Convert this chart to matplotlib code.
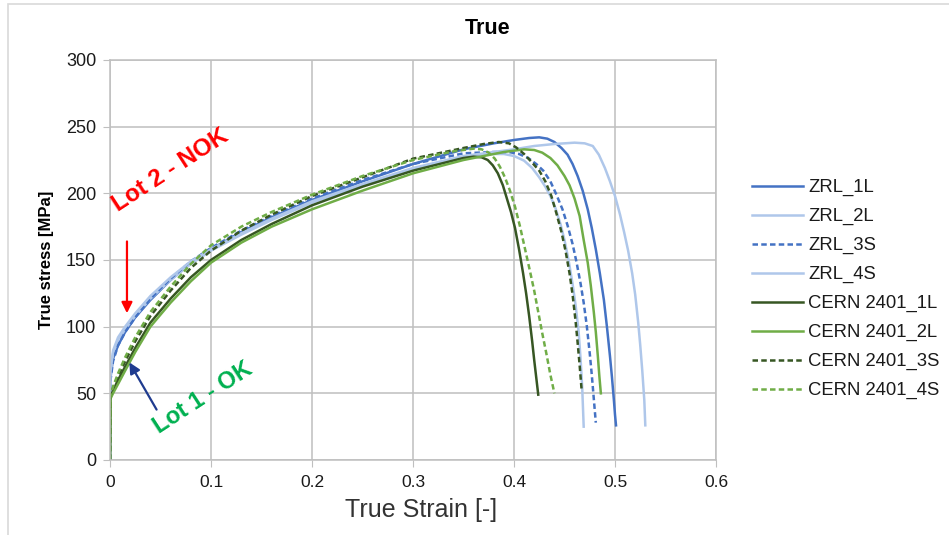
import matplotlib
matplotlib.use("Agg")
import matplotlib.pyplot as plt
from matplotlib.patches import Rectangle

plt.rcParams['font.family'] = ['Liberation Sans', 'DejaVu Sans']

# true strain [-] / true stress [MPa]
zrl_1l_eps = [0, 0.0005, 0.003, 0.008, 0.015, 0.025, 0.04, 0.06, 0.08, 0.1, 0.13, 0.16, 0.2, 0.25, 0.3, 0.35,
              0.38, 0.4, 0.415, 0.425, 0.433, 0.44, 0.447, 0.453, 0.458, 0.463, 0.468, 0.473, 0.477, 0.481,
              0.485, 0.489, 0.492, 0.495, 0.497, 0.499, 0.5, 0.501]
zrl_1l_sig = [0, 62, 76, 86, 96, 107, 120, 135, 148, 158, 171, 182, 195, 209, 222, 233,
              237.5, 240, 241.5, 242, 241, 238.5, 234, 229, 222, 213, 202, 188, 174, 158,
              140, 120, 100, 78, 62, 44, 34, 26]

zrl_2l_eps = [0, 0.0005, 0.003, 0.008, 0.015, 0.025, 0.04, 0.06, 0.08, 0.1, 0.13, 0.16, 0.2, 0.25, 0.3, 0.35,
              0.375, 0.39, 0.4, 0.41, 0.418, 0.425, 0.431, 0.436, 0.441, 0.446, 0.45, 0.454, 0.458, 0.461,
              0.464, 0.466, 0.4675, 0.469]
zrl_2l_sig = [0, 64, 80, 90, 98, 108, 121, 135, 147, 157, 169, 180, 193, 206, 218, 227,
              229.5, 229.5, 228, 224.5, 219, 212, 205, 198, 189, 177, 165, 150, 132, 116,
              96, 75, 55, 25]

zrl_3s_eps = [0, 0.0005, 0.003, 0.008, 0.015, 0.025, 0.04, 0.06, 0.08, 0.1, 0.13, 0.16, 0.2, 0.25, 0.3, 0.35,
              0.38, 0.395, 0.405, 0.414, 0.422, 0.429, 0.436, 0.442, 0.448, 0.453, 0.458, 0.462, 0.466, 0.469,
              0.472, 0.475, 0.477, 0.479, 0.481]
zrl_3s_sig = [0, 60, 74, 86, 96, 107, 121, 136, 149, 159, 172, 183, 196, 210, 222, 230,
              231, 231, 229.5, 226.5, 222, 217, 209, 199, 188, 176, 162, 148, 132, 118,
              101, 80, 64, 46, 28]

zrl_4s_eps = [0, 0.0005, 0.003, 0.008, 0.015, 0.025, 0.04, 0.06, 0.08, 0.1, 0.13, 0.16, 0.2, 0.25, 0.3, 0.35,
              0.4, 0.42, 0.44, 0.46, 0.47, 0.478, 0.484, 0.49, 0.495, 0.5, 0.505, 0.509, 0.513, 0.517,
              0.52, 0.523, 0.525, 0.527, 0.529, 0.53]
zrl_4s_sig = [0, 66, 82, 92, 100, 110, 123, 137, 149, 158, 170, 181, 194, 207, 219, 228,
              233, 235.5, 237, 238, 237.5, 235.5, 229, 219, 209, 198, 184, 171, 157, 140,
              124, 103, 86, 67, 45, 26]

cern_1l_eps = [0, 0.0005, 0.003, 0.008, 0.015, 0.025, 0.04, 0.06, 0.08, 0.1, 0.13, 0.16, 0.2, 0.25, 0.3, 0.35,
               0.36, 0.368, 0.374, 0.379, 0.384, 0.389, 0.393, 0.397, 0.401, 0.405, 0.409, 0.412, 0.415, 0.418,
               0.42, 0.422, 0.424]
cern_1l_sig = [0, 47, 52, 60, 70, 84, 103, 121, 137, 150, 165, 177, 191, 205, 217, 226.5,
               227.5, 227, 225, 221, 215, 206, 196, 186, 174, 158, 140, 125, 108, 89,
               75, 62, 49]

cern_2l_eps = [0, 0.0005, 0.003, 0.008, 0.015, 0.025, 0.04, 0.06, 0.08, 0.1, 0.13, 0.16, 0.2, 0.25, 0.3, 0.35,
               0.39, 0.41, 0.42, 0.428, 0.436, 0.443, 0.45, 0.455, 0.46, 0.465, 0.469, 0.473, 0.476, 0.479,
               0.481, 0.483, 0.4845, 0.486]
cern_2l_sig = [0, 46, 50, 57, 67, 81, 100, 118, 134, 148, 163, 175, 188, 202, 215, 225,
               231, 233, 232.5, 230.5, 226.5, 221, 213, 206, 196, 183, 165, 148, 131, 111,
               96, 78, 63, 50]

cern_3s_eps = [0, 0.0005, 0.003, 0.008, 0.015, 0.025, 0.04, 0.06, 0.08, 0.1, 0.13, 0.16, 0.2, 0.25, 0.3, 0.35,
               0.37, 0.385, 0.395, 0.402, 0.41, 0.418, 0.425, 0.431, 0.437, 0.442, 0.447, 0.451, 0.455, 0.458,
               0.461, 0.463, 0.465, 0.467]
cern_3s_sig = [0, 48, 54, 63, 74, 89, 108, 127, 144, 157, 172, 184, 198, 212, 226, 234,
               237, 238.5, 237.5, 234.5, 229.5, 223, 217, 209, 198, 185, 171, 157, 140, 124,
               104, 88, 71, 52]

cern_4s_eps = [0, 0.0005, 0.003, 0.008, 0.015, 0.025, 0.04, 0.06, 0.08, 0.1, 0.13, 0.16, 0.2, 0.25, 0.3,
               0.34, 0.36, 0.368, 0.375, 0.381, 0.386, 0.391, 0.396, 0.401, 0.406, 0.411, 0.416, 0.42, 0.424,
               0.428, 0.432, 0.436, 0.44]
cern_4s_sig = [0, 48, 55, 65, 77, 92, 111, 130, 147, 161, 175, 186, 199, 213, 225,
               231.5, 233.5, 233, 230.5, 226, 220, 212, 202, 190, 175, 158, 141, 127, 111,
               95, 80, 64, 50]

x_ticks = [0, 0.1, 0.2, 0.3, 0.4, 0.5, 0.6]
x_tick_labels = ['0', '0.1', '0.2', '0.3', '0.4', '0.5', '0.6']
y_ticks = [0, 50, 100, 150, 200, 250, 300]

series = [
    ('ZRL_1L', zrl_1l_eps, zrl_1l_sig, '#4472C4', '-'),
    ('ZRL_2L', zrl_2l_eps, zrl_2l_sig, '#AFC7EA', '-'),
    ('ZRL_3S', zrl_3s_eps, zrl_3s_sig, '#4472C4', '--'),
    ('ZRL_4S', zrl_4s_eps, zrl_4s_sig, '#AFC7EA', '-'),
    ('CERN 2401_1L', cern_1l_eps, cern_1l_sig, '#375623', '-'),
    ('CERN 2401_2L', cern_2l_eps, cern_2l_sig, '#70AD47', '-'),
    ('CERN 2401_3S', cern_3s_eps, cern_3s_sig, '#375623', '--'),
    ('CERN 2401_4S', cern_4s_eps, cern_4s_sig, '#70AD47', '--'),
]

W, H = 949, 535
fig = plt.figure(figsize=(W / 100, H / 100), dpi=100)
fig.patch.set_facecolor('white')

# light frame round the whole chart
fig.patches.append(Rectangle((8 / W, -0.01), 1.02, 1 - 4 / H + 0.01, transform=fig.transFigure,
                             fill=False, edgecolor='#D9D9D9', lw=1.2))

ax = fig.add_axes([110 / W, 75 / H, 606 / W, 400 / H])
for label, eps, sig, color, ls in series:
    ax.plot(eps, sig, color=color, linestyle=ls, lw=1.8, label=label,
            dashes=(2.2, 1.3) if ls == '--' else (None, None))

ax.set_xlim(0, 0.6)
ax.set_ylim(0, 300)
ax.set_xticks(x_ticks)
ax.set_xticklabels(x_tick_labels, fontsize=12.5)
ax.set_yticks(y_ticks)
ax.tick_params(axis='y', labelsize=13, length=5, pad=5, color='#BFBFBF', labelcolor='#1a1a1a')
ax.tick_params(axis='x', length=5, pad=6, color='#BFBFBF', labelcolor='#1a1a1a')
ax.grid(True, color='#BFBFBF', lw=1.1)
ax.set_axisbelow(True)
for s in ax.spines.values():
    s.set_color('#BFBFBF')
    s.set_linewidth(1.1)

fig.text(488 / W, 1 - 28 / H, 'True', ha='center', va='center', fontsize=15.5, fontweight='bold')
fig.text(47 / W, 1 - 260 / H, 'True stress [MPa]', ha='center', va='center', rotation=90,
         fontsize=12, fontweight='bold')
fig.text(421 / W, 1 - 510 / H, 'True Strain [-]', ha='center', va='center', fontsize=18,
         color='#333333')

leg = ax.legend(loc='upper left', bbox_to_anchor=(752 / W, 1 - 179 / H), bbox_transform=fig.transFigure,
                frameon=False, fontsize=13.3, handlelength=2.75, handletextpad=0.3,
                labelspacing=0.64, borderpad=0, borderaxespad=0)
for t in leg.get_texts():
    t.set_color('#1a1a1a')

# annotations
ax.annotate('', xy=(0.0168, 108), xytext=(0.0168, 166),
            arrowprops=dict(arrowstyle='-|>', color='#FF0000', lw=1.6, mutation_scale=16))
ax.text(0.06, 217, 'Lot 2 - NOK', color='#FF0000', fontsize=17.5, fontweight='bold',
        rotation=33, ha='center', va='center', rotation_mode='anchor')
ax.annotate('', xy=(0.0178, 75), xytext=(0.0475, 36),
            arrowprops=dict(arrowstyle='-|>', color='#1F3B8F', lw=1.6, mutation_scale=16))
ax.text(0.092, 47, 'Lot 1 - OK', color='#00B050', fontsize=17, fontweight='bold',
        rotation=33, ha='center', va='center', rotation_mode='anchor')

fig.savefig('out.png', dpi=100)
